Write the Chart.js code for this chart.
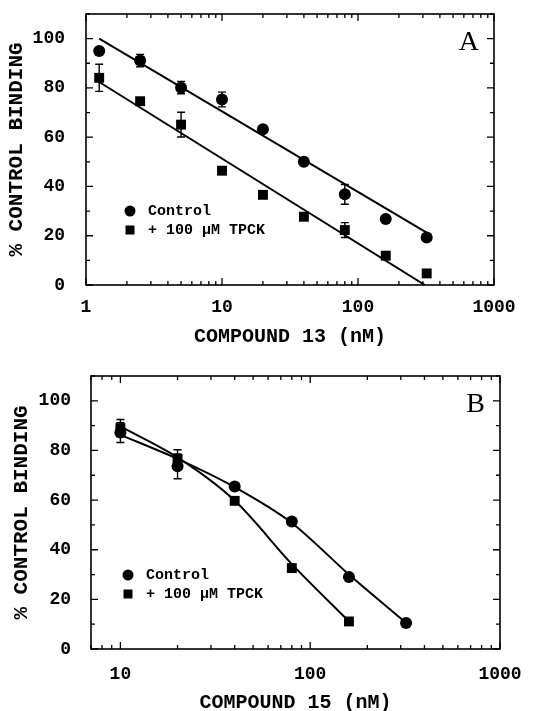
<!DOCTYPE html>
<html>
<head>
<meta charset="utf-8">
<script src="https://cdn.jsdelivr.net/npm/chart.js@4.4.1/dist/chart.umd.min.js"></script>
<style>
  html, body { margin: 0; padding: 0; background: #fff; overflow: hidden; }
  .panel { position: absolute; left: 0; width: 551px; height: 360px; }
  #panelA { top: 0; }
  #panelB { top: 360px; }
</style>
</head>
<body>
<div class="panel" id="panelA"><canvas id="chartA" width="551" height="360"></canvas></div>
<div class="panel" id="panelB"><canvas id="chartB" width="551" height="360"></canvas></div>
<script>
// Panel A - compound 13
const doseA = [1.25, 2.5, 5, 10, 20, 40, 80, 160, 320];
const controlA = [95.0, 91.1, 80.1, 75.3, 63.2, 50.0, 36.8, 26.8, 19.3];
const controlErrA = [0, 2.5, 2.5, 3, 0, 0, 4, 0, 0];
const tpckA = [84.1, 74.6, 65.1, 46.4, 36.6, 27.7, 22.3, 11.9, 4.7];
const tpckErrA = [5.5, 0, 5, 0, 0, 0, 3, 0, 0];
// regression lines, end points
const controlFitDoseA = [1.25, 320];
const controlFitA = [100, 21.3];
const tpckFitDoseA = [1.25, 310];
const tpckFitA = [82.4, 0];

// Panel B - compound 15
const controlDoseB = [10, 20, 40, 80, 160, 320];
const controlB = [87.2, 73.6, 65.5, 51.4, 29.0, 10.5];
const controlErrB = [4, 5, 0, 0, 0, 0];
const tpckDoseB = [10, 20, 40, 80, 160];
const tpckB = [89.0, 76.6, 59.7, 32.6, 11.1];
const tpckErrB = [3.5, 3.7, 0, 0, 0];
// fitted curves, read at the same doses
const controlCurveB = [86.3, 76.6, 65.2, 50.8, 30.0, 10.5];
const tpckCurveB = [89.7, 77.2, 59.8, 34.2, 11.1];

const xTicksA = [1, 10, 100, 1000];
const xTicksB = [10, 100, 1000];
const yTicks = [0, 20, 40, 60, 80, 100];
const legendLabels = ['Control', '+ 100 \u03bcM TPCK'];

const MONO = "'Liberation Mono', 'DejaVu Sans Mono', monospace";

function zip(xs, ys) {
    return xs.map((x, i) => ({ x: x, y: ys[i] }));
}

// box round the plot with inward ticks on all four sides
const framePlugin = {
    id: 'frame',
    afterDraw(chart) {
        const { ctx, chartArea: a, scales: { x, y } } = chart;
        ctx.save();
        ctx.strokeStyle = '#000';
        ctx.lineWidth = 1.6;
        ctx.strokeRect(a.left, a.top, a.right - a.left, a.bottom - a.top);
        ctx.lineWidth = 1.3;
        ctx.beginPath();
        for (let d = 1; d <= 1000; d *= 10) {
            for (let m = 1; m < 10; m++) {
                const v = d * m;
                if (v < x.min || v > x.max) continue;
                const px = x.getPixelForValue(v);
                const len = m === 1 ? 7 : 4;
                ctx.moveTo(px, a.bottom); ctx.lineTo(px, a.bottom - len);
                ctx.moveTo(px, a.top); ctx.lineTo(px, a.top + len);
            }
        }
        for (let v = 0; v <= y.max; v += 10) {
            const py = y.getPixelForValue(v);
            const len = v % 20 === 0 ? 7 : 4;
            ctx.moveTo(a.left, py); ctx.lineTo(a.left + len, py);
            ctx.moveTo(a.right, py); ctx.lineTo(a.right - len, py);
        }
        ctx.stroke();
        ctx.restore();
    }
};

// vertical error bars from each dataset's errors list
const errorBarPlugin = {
    id: 'errorBars',
    afterDatasetsDraw(chart) {
        const { ctx, scales: { y } } = chart;
        ctx.save();
        ctx.strokeStyle = '#000';
        ctx.lineWidth = 1.4;
        chart.data.datasets.forEach((ds, i) => {
            if (!ds.errors) return;
            const meta = chart.getDatasetMeta(i);
            meta.data.forEach((pt, j) => {
                const err = ds.errors[j];
                if (!err) return;
                const val = ds.data[j].y;
                const top = y.getPixelForValue(val + err);
                const bot = y.getPixelForValue(val - err);
                ctx.beginPath();
                ctx.moveTo(pt.x, top); ctx.lineTo(pt.x, bot);
                ctx.moveTo(pt.x - 4, top); ctx.lineTo(pt.x + 4, top);
                ctx.moveTo(pt.x - 4, bot); ctx.lineTo(pt.x + 4, bot);
                ctx.stroke();
            });
        });
        ctx.restore();
    }
};

// panel letter and the in-plot legend
const decorPlugin = {
    id: 'decor',
    afterDraw(chart, args, opts) {
        const { ctx, chartArea: a } = chart;
        ctx.save();
        ctx.fillStyle = '#000';
        ctx.font = "28px 'Liberation Serif', 'DejaVu Serif', serif";
        ctx.textAlign = 'right';
        ctx.textBaseline = 'alphabetic';
        ctx.fillText(opts.letter, a.right - 15, a.top + 36);

        const mx = a.left + opts.legendLeft;
        const y1 = a.bottom - opts.legendBottom;
        const y2 = y1 + 19;
        ctx.beginPath();
        ctx.arc(mx, y1, 5.5, 0, Math.PI * 2);
        ctx.fill();
        ctx.fillRect(mx - 4.5, y2 - 4.5, 9, 9);
        ctx.font = 'bold 15px ' + MONO;
        ctx.textAlign = 'left';
        ctx.textBaseline = 'middle';
        ctx.fillText(legendLabels[0], mx + 18, y1);
        ctx.fillText(legendLabels[1], mx + 18, y2);
        ctx.restore();
    }
};

function makeChart(id, cfg) {
    const ctx = document.getElementById(id).getContext('2d');
    return new Chart(ctx, {
        type: 'scatter',
        data: { datasets: cfg.datasets },
        options: {
            responsive: false,
            animation: false,
            layout: { padding: { top: cfg.padTop, right: cfg.padRight, left: 0, bottom: 0 } },
            plugins: {
                legend: { display: false },
                tooltip: { enabled: false },
                decor: { letter: cfg.letter, legendLeft: cfg.legendLeft, legendBottom: cfg.legendBottom }
            },
            scales: {
                x: {
                    type: 'logarithmic',
                    min: cfg.xMin,
                    max: 1000,
                    afterBuildTicks: s => { s.ticks = cfg.xTicks.map(v => ({ value: v })); },
                    afterFit: s => {
                        s.height = cfg.xHeight;
                        s.paddingLeft = 0;
                        s.paddingRight = 0;
                    },
                    grid: { display: false },
                    border: { display: false },
                    ticks: {
                        color: '#000',
                        autoSkip: false,
                        maxRotation: 0,
                        padding: cfg.xTickPad,
                        font: { family: MONO, size: cfg.tickSize, weight: 'bold' },
                        callback: v => String(v)
                    },
                    title: {
                        display: true,
                        text: cfg.xTitle,
                        color: '#000',
                        padding: { top: 0, bottom: cfg.xTitlePad },
                        font: { family: MONO, size: 20, weight: 'bold' }
                    }
                },
                y: {
                    min: 0,
                    max: 110,
                    afterBuildTicks: s => { s.ticks = yTicks.map(v => ({ value: v })); },
                    afterFit: s => {
                        s.width = cfg.yWidth;
                        s.paddingTop = 0;
                        s.paddingBottom = 0;
                    },
                    grid: { display: false },
                    border: { display: false },
                    ticks: {
                        color: '#000',
                        padding: cfg.yTickPad,
                        font: { family: MONO, size: cfg.tickSize, weight: 'bold' }
                    },
                    title: {
                        display: true,
                        text: '% CONTROL BINDING',
                        color: '#000',
                        padding: { top: cfg.yTitlePad, bottom: 0 },
                        font: { family: MONO, size: 21, weight: 'bold' }
                    }
                }
            }
        },
        plugins: [framePlugin, errorBarPlugin, decorPlugin]
    });
}

const lineStyle = { showLine: true, borderColor: '#000', borderWidth: 2, pointRadius: 0 };
const circleStyle = { pointStyle: 'circle', pointRadius: 6, backgroundColor: '#000', borderColor: '#000', borderWidth: 0 };
const squareStyle = { pointStyle: 'rect', pointRadius: 7, backgroundColor: '#000', borderColor: '#000', borderWidth: 0 };

makeChart('chartA', {
    letter: 'A',
    xTitle: 'COMPOUND 13 (nM)',
    xMin: 1,
    xTicks: xTicksA,
    padTop: 14, padRight: 57, yWidth: 86, xHeight: 75,
    tickSize: 18, xTickPad: 4, yTickPad: 13, xTitlePad: 11, yTitlePad: 4,
    legendLeft: 44, legendBottom: 74,
    datasets: [
        Object.assign({ data: zip(controlFitDoseA, controlFitA) }, lineStyle),
        Object.assign({ data: zip(tpckFitDoseA, tpckFitA) }, lineStyle),
        Object.assign({ label: 'Control', data: zip(doseA, controlA), errors: controlErrA }, circleStyle),
        Object.assign({ label: 'TPCK', data: zip(doseA, tpckA), errors: tpckErrA }, squareStyle)
    ]
});

makeChart('chartB', {
    letter: 'B',
    xTitle: 'COMPOUND 15 (nM)',
    xMin: 7,
    xTicks: xTicksB,
    padTop: 16, padRight: 51, yWidth: 91, xHeight: 71,
    tickSize: 18, xTickPad: 7, yTickPad: 12, xTitlePad: 5, yTitlePad: 9,
    legendLeft: 37, legendBottom: 74,
    datasets: [
        Object.assign({ data: zip(controlDoseB, controlCurveB), tension: 0.3 }, lineStyle),
        Object.assign({ data: zip(tpckDoseB, tpckCurveB), tension: 0.3 }, lineStyle),
        Object.assign({ label: 'Control', data: zip(controlDoseB, controlB), errors: controlErrB }, circleStyle),
        Object.assign({ label: 'TPCK', data: zip(tpckDoseB, tpckB), errors: tpckErrB }, squareStyle)
    ]
});
</script>
</body>
</html>
